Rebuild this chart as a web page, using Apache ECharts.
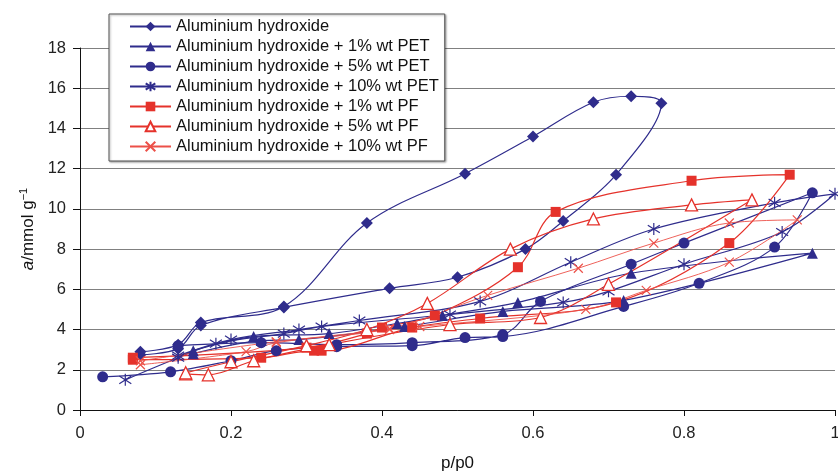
<!DOCTYPE html>
<html>
<head>
<meta charset="utf-8">
<script src="https://cdn.jsdelivr.net/npm/echarts@6/dist/echarts.min.js"></script>
<style>
  html, body { margin: 0; padding: 0; background: #fff; }
  #chart { width: 838px; height: 474px; }
</style>
</head>
<body>
<div id="chart"></div>
<script>
// isotherm loops: adsorption branch up, then desorption branch back down
const alOH = [
  [0.08, 2.75], [0.13, 3.05], [0.16, 4.2], [0.27, 5.1], [0.41, 6.05], [0.50, 6.6],
  [0.59, 8.0], [0.64, 9.4], [0.71, 11.7], [0.77, 15.25],
  [0.73, 15.6], [0.68, 15.3], [0.60, 13.6], [0.51, 11.75], [0.38, 9.3],
  [0.27, 5.15], [0.16, 4.35], [0.13, 3.25], [0.08, 2.9]
]
const pet1 = [
  [0.15, 2.8], [0.24, 3.45], [0.29, 3.5], [0.43, 4.15], [0.56, 4.9], [0.72, 5.45], [0.97, 7.8],
  [0.73, 6.8], [0.58, 5.35], [0.48, 4.7], [0.42, 4.3], [0.33, 3.8], [0.23, 3.65], [0.15, 2.95]
]
const pet5 = [
  [0.03, 1.65], [0.12, 1.9], [0.20, 2.45], [0.26, 2.95], [0.34, 3.15], [0.44, 3.2],
  [0.51, 3.6], [0.56, 3.65], [0.72, 5.15], [0.82, 6.3], [0.92, 8.1], [0.97, 10.8],
  [0.80, 8.3], [0.73, 7.25], [0.61, 5.4], [0.56, 3.75], [0.44, 3.35], [0.34, 3.25],
  [0.24, 3.35], [0.13, 3.2]
]
const pet10 = [
  [0.06, 1.5], [0.13, 2.6], [0.18, 3.3], [0.27, 3.8], [0.32, 4.15], [0.49, 4.75],
  [0.64, 5.35], [0.70, 5.9], [0.80, 7.25], [0.93, 8.85], [1.0, 10.75],
  [0.92, 10.3], [0.76, 9.0], [0.65, 7.35], [0.53, 5.4], [0.37, 4.45], [0.29, 4.0],
  [0.20, 3.5], [0.13, 2.7]
]
const pf1 = [
  [0.07, 2.5], [0.24, 2.6], [0.31, 2.95], [0.32, 2.95], [0.44, 4.1], [0.53, 4.55],
  [0.71, 5.35], [0.86, 8.3], [0.94, 11.7],
  [0.81, 11.4], [0.63, 9.85], [0.58, 7.1], [0.47, 4.7], [0.40, 4.1], [0.38, 3.8],
  [0.30, 3.1], [0.07, 2.6]
]
const pf5 = [
  [0.14, 1.8], [0.17, 1.75], [0.23, 2.45], [0.33, 3.25], [0.49, 4.25], [0.61, 4.6],
  [0.70, 6.25], [0.89, 10.45],
  [0.81, 10.2], [0.68, 9.5], [0.57, 8.0], [0.46, 5.3], [0.38, 4.0], [0.30, 3.2],
  [0.20, 2.4], [0.14, 1.85]
]
const pf10 = [
  [0.08, 2.25], [0.22, 2.9], [0.26, 3.35], [0.41, 4.0], [0.45, 4.15], [0.67, 5.0],
  [0.75, 5.95], [0.86, 7.35], [0.95, 9.45],
  [0.86, 9.3], [0.76, 8.3], [0.66, 7.05], [0.54, 5.7], [0.41, 4.05], [0.26, 3.4], [0.08, 2.45]
]
const names = [
  'Aluminium hydroxide',
  'Aluminium hydroxide + 1% wt PET',
  'Aluminium hydroxide + 5% wt PET',
  'Aluminium hydroxide + 10% wt PET',
  'Aluminium hydroxide + 1% wt PF',
  'Aluminium hydroxide + 5% wt PF',
  'Aluminium hydroxide + 10% wt PF'
]
const xTicks = [0, 0.2, 0.4, 0.6, 0.8, 1]

const blue = '#2f2c8c'
const red = '#e5322b'
const star = 'path://M5,0L5,10M0.7,1.8L9.3,8.2M9.3,1.8L0.7,8.2'
const cross = 'path://M0,0L10,10M10,0L0,10'

function loop(name, data, color, symbol, size, extra) {
  return Object.assign({
    name: name,
    type: 'line',
    data: data,
    smooth: 0.35,
    symbol: symbol,
    symbolSize: size,
    lineStyle: { color: color, width: 1.2 },
    itemStyle: { color: color, borderColor: color, borderWidth: 0 },
    emphasis: { disabled: true }
  }, extra || {})
}

const chart = echarts.init(document.getElementById('chart'))
chart.setOption({
  animation: false,
  textStyle: { fontFamily: 'Liberation Sans, Arial, sans-serif' },
  grid: { left: 80, right: 3, top: 48, bottom: 64, outerBoundsMode: 'none', containLabel: false },
  legend: {
    orient: 'vertical',
    left: 109,
    top: 14,
    padding: [4, 6, 6, 20],
    itemGap: 3,
    itemWidth: 41,
    itemHeight: 12,
    backgroundColor: '#fff',
    borderColor: '#555',
    borderWidth: 1,
    shadowColor: 'rgba(0,0,0,0.35)',
    shadowOffsetX: 1,
    shadowOffsetY: 1,
    shadowBlur: 2,
    textStyle: { fontSize: 16.5, color: '#111', lineHeight: 16.5 },
    data: names
  },
  xAxis: {
    type: 'value',
    min: 0,
    max: 1,
    interval: 0.2,
    name: 'p/p0',
    nameLocation: 'middle',
    nameGap: 45,
    nameTextStyle: { fontSize: 17, color: '#111' },
    axisLine: { lineStyle: { color: '#111', width: 1 } },
    axisTick: { length: 6, lineStyle: { color: '#111' } },
    axisLabel: {
      fontSize: 16.5, color: '#222', margin: 15,
      formatter: v => xTicks.indexOf(v) >= 0 ? String(v) : ''
    },
    splitLine: { show: false }
  },
  yAxis: {
    type: 'value',
    min: 0,
    max: 18,
    interval: 2,
    name: '{i|a}/mmol g{s|−1}',
    nameLocation: 'middle',
    nameGap: 42,
    nameRotate: 90,
    nameTextStyle: {
      fontSize: 17, color: '#111',
      rich: {
        i: { fontSize: 17, fontStyle: 'italic', color: '#111' },
        s: { fontSize: 11, color: '#111', padding: [0, 0, 9, 0] }
      }
    },
    axisLine: { show: true, lineStyle: { color: '#111', width: 1 } },
    axisTick: { show: true, length: 7, lineStyle: { color: '#111' } },
    axisLabel: { fontSize: 16.5, color: '#222', margin: 14 },
    splitLine: { lineStyle: { color: '#808080', width: 1.2 } }
  },
  series: [
    loop(names[0], alOH, blue, 'diamond', 12),
    loop(names[1], pet1, blue, 'triangle', 11),
    loop(names[2], pet5, blue, 'circle', 11),
    loop(names[3], pet10, blue, star, 12, { itemStyle: { color: blue, borderColor: blue, borderWidth: 1.2 } }),
    loop(names[4], pf1, red, 'rect', 10),
    loop(names[5], pf5, red, 'triangle', 12, { itemStyle: { color: '#fff', borderColor: red, borderWidth: 1.3 } }),
    loop(names[6], pf10, '#ec5048', cross, 9, {
      lineStyle: { color: '#ec5048', width: 0.9 },
      itemStyle: { color: '#ec5048', borderColor: '#ec5048', borderWidth: 1.2 }
    })
  ]
})
</script>
</body>
</html>
